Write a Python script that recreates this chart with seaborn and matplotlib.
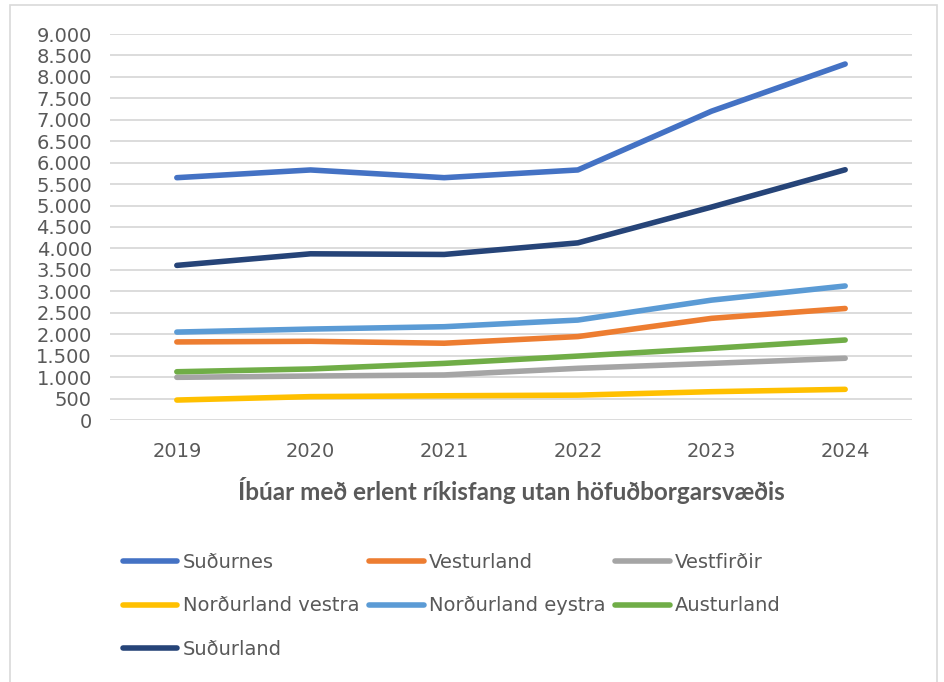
import pandas as pd
import matplotlib.pyplot as plt
import seaborn as sns
from matplotlib.ticker import FuncFormatter
from matplotlib.patches import Rectangle

years = ["2019", "2020", "2021", "2022", "2023", "2024"]
sudurnes = [5650, 5830, 5650, 5830, 7200, 8300]
vesturland = [1820, 1835, 1790, 1945, 2370, 2600]
vestfirdir = [995, 1025, 1050, 1205, 1320, 1440]
nl_vestra = [465, 545, 565, 580, 660, 715]
nl_eystra = [2050, 2120, 2175, 2330, 2795, 3125]
austurland = [1125, 1190, 1320, 1490, 1670, 1865]
sudurland = [3605, 3875, 3860, 4130, 4965, 5835]

series = {
    "Suðurnes": sudurnes,
    "Vesturland": vesturland,
    "Vestfirðir": vestfirdir,
    "Norðurland vestra": nl_vestra,
    "Norðurland eystra": nl_eystra,
    "Austurland": austurland,
    "Suðurland": sudurland,
}
colors = ["#4472C4", "#ED7D31", "#A5A5A5", "#FFC000", "#5B9BD5", "#70AD47", "#264478"]

rows = []
for name, vals in series.items():
    for i, v in enumerate(vals):
        rows.append({"Ár": i, "Fjöldi": v, "Svæði": name})
df = pd.DataFrame(rows)

sns.set_style("white")
plt.rcParams["font.family"] = ["DejaVu Sans"]
grey_txt = "#595959"

fig = plt.figure(figsize=(9.44, 6.82), dpi=100)
ax = fig.add_axes([110 / 944, 1 - 420 / 682, 802 / 944, 386 / 682])

sns.lineplot(data=df, x="Ár", y="Fjöldi", hue="Svæði", palette=colors,
             linewidth=4.0, ax=ax, legend=False, solid_capstyle="round")

ax.set_xlim(-0.5, 5.5)
ax.set_ylim(0, 9000)
ax.set_yticks(range(0, 9001, 500))
ax.yaxis.set_major_formatter(FuncFormatter(lambda v, p: f"{int(v):,}".replace(",", ".")))
ax.set_xticks(range(len(years)))
ax.set_xticklabels(years)
ax.grid(axis="y", color="#D9D9D9", linewidth=1.3)
ax.set_axisbelow(True)
for s in ax.spines.values():
    s.set_visible(False)
ax.tick_params(axis="y", labelsize=14, colors=grey_txt, length=0, pad=13)
ax.tick_params(axis="x", labelsize=14, colors=grey_txt, length=0, pad=16)
ax.set_ylabel("")
ax.set_xlabel("Íbúar með erlent ríkisfang utan höfuðborgarsvæðis",
              fontsize=17.5, fontweight="bold", color=grey_txt, labelpad=11,
              family=["Lato", "DejaVu Sans"])

# legend is filled column by column, so reorder to read row by row
names = list(series.keys())
order = [0, 3, 6, 1, 4, 2, 5]
handles = [plt.Line2D([], [], color=colors[i], linewidth=4.0, solid_capstyle="round") for i in order]
fig.legend(handles, [names[i] for i in order], loc="upper left",
           bbox_to_anchor=(123 / 944, 1 - 553 / 682), ncol=3, frameon=False,
           fontsize=14, labelcolor=grey_txt, handlelength=2.8, handletextpad=0.28,
           columnspacing=0.5, labelspacing=1.25, borderpad=0, borderaxespad=0)

fig.patches.append(Rectangle((10 / 944, -0.05), 927 / 944, 1.0 - 5 / 682 + 0.05,
                             transform=fig.transFigure, fill=False,
                             edgecolor="#D9D9D9", linewidth=1.2))

fig.savefig("out.png", dpi=100)
